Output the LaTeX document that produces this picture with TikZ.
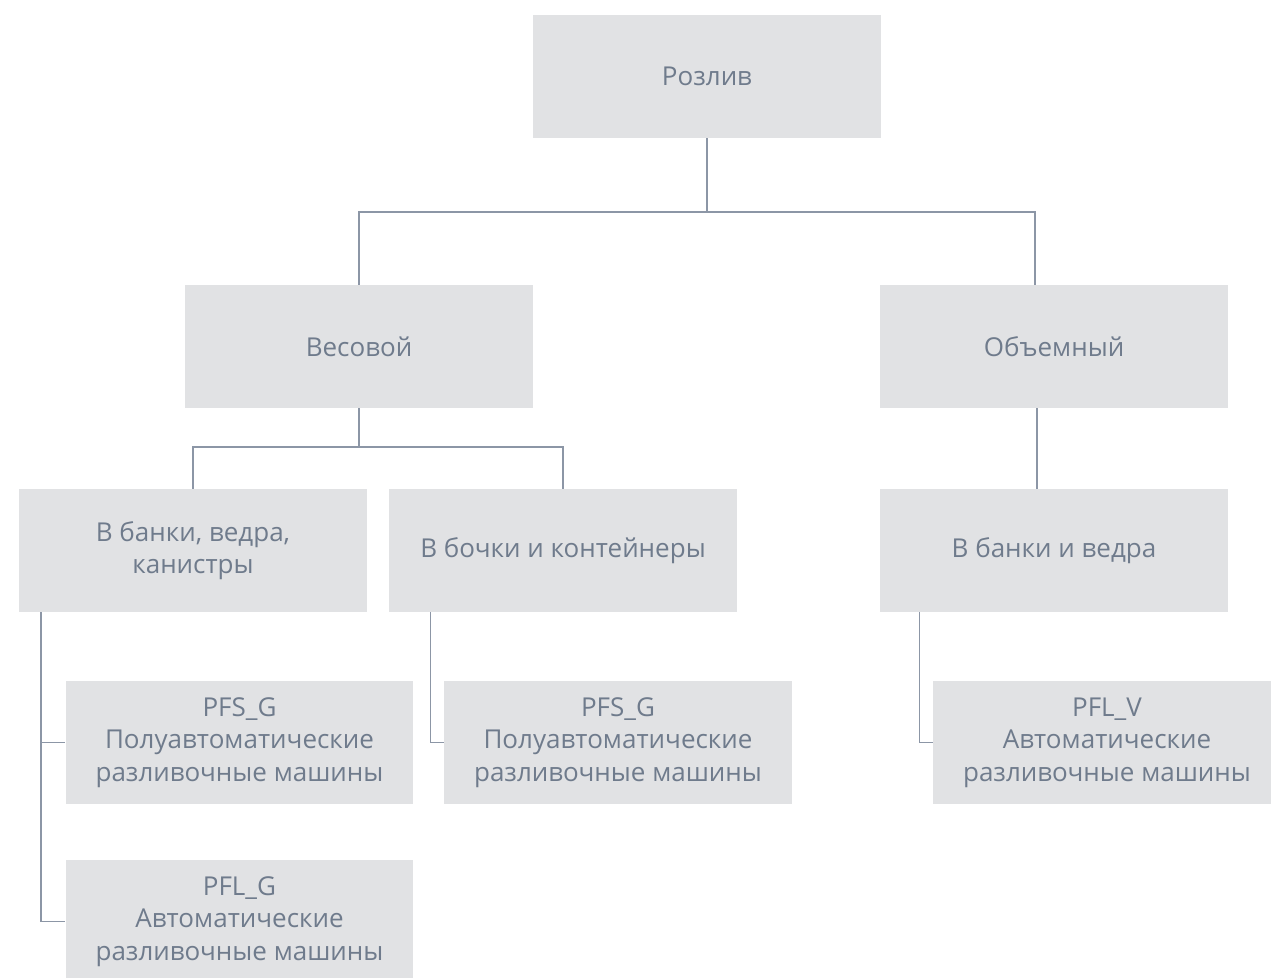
\documentclass[tikz,border=0pt]{standalone}
\usepackage{fontspec}
\setmainfont{Open Sans}
\usetikzlibrary{positioning}
\definecolor{boxfill}{HTML}{E1E2E4}
\definecolor{boxtext}{HTML}{6F7B8C}
\definecolor{linkcol}{HTML}{8C96A6}
\begin{document}
\begin{tikzpicture}[x=0.02cm,y=-0.02cm,
    main/.style = {fill=boxfill, text=boxtext, minimum width=6.96cm, minimum height=2.46cm,
                   inner sep=0pt, align=center, font=\fontsize{14.8}{18.5}\selectfont},
    link/.style = {draw=linkcol, line width=0.8pt}]
                \clip (0,0) rectangle (1271,977);
                \node[main] (1) at (707,76.5) {Розлив};
                \node[main] (2) at (359,346.5) {Весовой};
                \node[main] (3) at (1054,346.5) {Объемный};
                \node[main] (4) at (193,550.5) {В банки, ведра,\\канистры};
                \node[main] (5) at (563,550.5) {В бочки и контейнеры};
                \node[main] (6) at (1054,550.5) {В банки и ведра};
                \node[main] (7) at (239.5,742.5) {PFS\_G\\Полуавтоматические\\разливочные машины};
                \node[main] (8) at (239.5,921.5) {PFL\_G\\Автоматические\\разливочные машины};
                \node[main] (9) at (618,742.5) {PFS\_G\\Полуавтоматические\\разливочные машины};
                \node[main] (10) at (1107,742.5) {PFL\_V\\Автоматические\\разливочные машины};
                % level 1
                \coordinate (j1) at (707,212);
                \path[link] (1.south) -- (j1);
                \path[link] (2.north) |- (j1) -| ([xshift=-0.38cm]3.north);
                % level 2
                \coordinate (j2) at (359,447);
                \path[link] (2.south) -- (j2);
                \path[link] (4.north) |- (j2) -| (5.north);
                \path[link] ([xshift=-0.34cm]3.south) -- ([xshift=-0.34cm]6.north);
                % level 3
                \path[link] ([xshift=0.45cm]4.south west) |- (7.west);
                \path[link] ([xshift=0.45cm]4.south west) |- (8.west);
                \path[link] ([xshift=0.84cm]5.south west) |- (9.west);
                \path[link] ([xshift=0.8cm]6.south west) |- (10.west);
\end{tikzpicture}
\end{document}
